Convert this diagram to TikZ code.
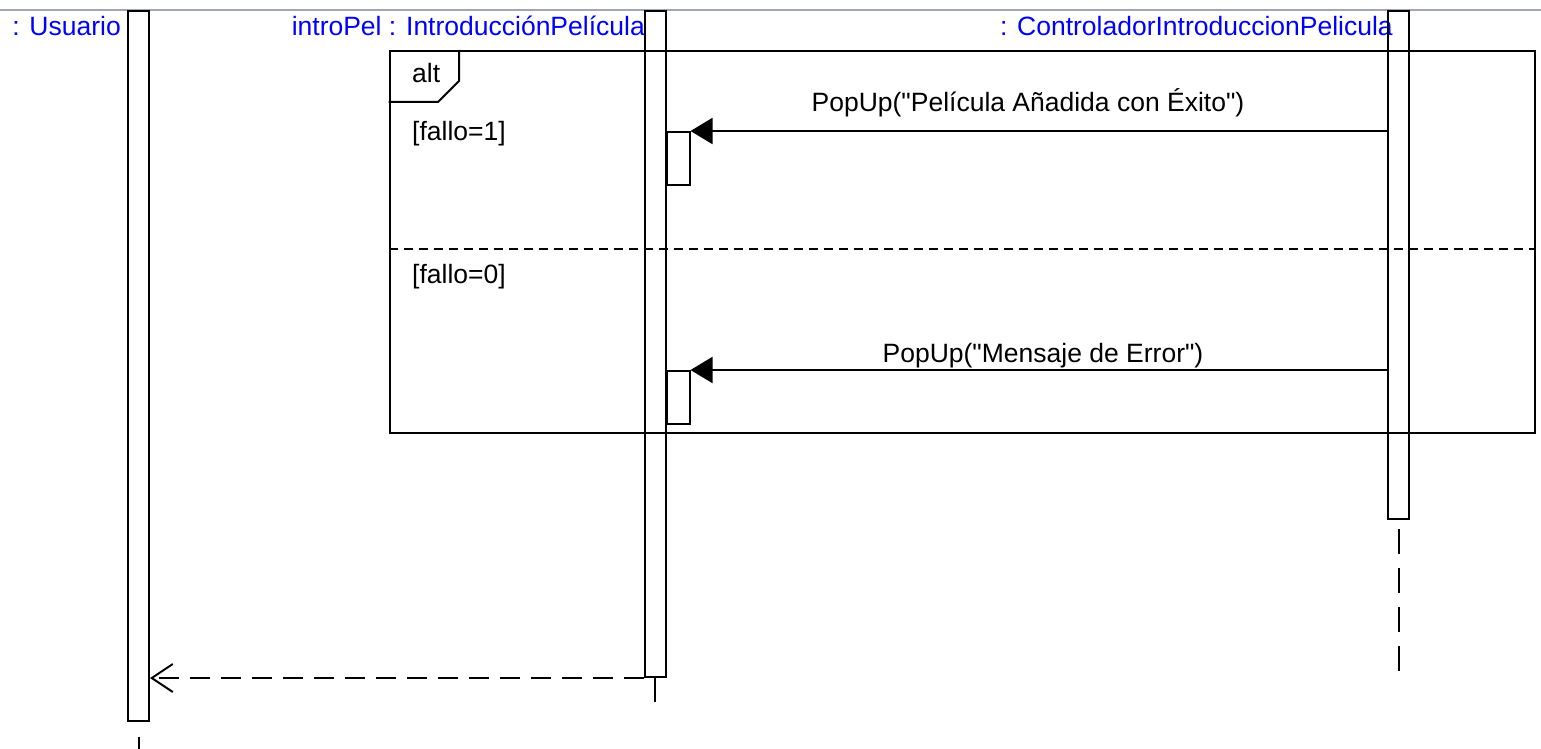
\documentclass[tikz,border=0pt]{standalone}
\usepackage{fontspec}
\setmainfont{Liberation Sans}
\usetikzlibrary{arrows.meta}
\tikzset{
  obj/.style={text=blue, font=\fontsize{26.5}{31}\selectfont, inner sep=0pt, anchor=base east},
  txt/.style={font=\fontsize{26.5}{31}\selectfont, inner sep=0pt},
  bar/.style={draw, line width=2pt, minimum width=21pt, inner sep=0pt, anchor=north},
  subact/.style={draw, line width=2pt, minimum width=23pt, minimum height=53pt, inner sep=0pt, anchor=north west},
  life/.style={line width=2pt, dash pattern=on 25pt off 14pt},
  sync/.style={line width=2pt, -{Triangle[length=22pt,width=26pt]}},
  reply/.style={line width=2pt, dash pattern=on 20pt off 11pt, -{Straight Barb[length=21pt,width=28pt]}}
}
\newcommand{\qt}{\textquotedbl}
\begin{document}
\begin{tikzpicture}[x=1pt,y=-1pt]
\useasboundingbox (0,0) rectangle (1541,749);
\draw [line width=2pt, color={rgb,255:red,160;green,166;blue,180}] (0,10) -- (1541,10);
% objects
\node[obj] (usrname) at (121,36) {: Usuario};
\node[obj] (pelname) at (645,36) {introPel : IntroducciónPelícula};
\node[obj] (ctlname) at (1393,36) {: ControladorIntroduccionPelicula};
\node[bar, minimum height=710pt] (usr) at (138.5,10) {};
\node[bar, minimum height=666pt] (pel) at (655,10) {};
\node[bar, minimum height=508pt] (ctl) at (1398.5,10) {};
\draw[life] ([yshift=-15pt]usr.south) -- (usr.south |- 0,749);
\draw[life] (pel.south) -- ++(0,24);
\draw[life] ([yshift=-9pt]ctl.south) -- ++(0,142);
% alt fragment
\node[draw, line width=2pt, minimum width=1145pt, minimum height=382pt, inner sep=0pt, anchor=north west] (alt) at (388.5,50) {};
\draw[line width=2pt] (459,50) -- (459,81) -- (438,102) -- (alt.west |- 0,102);
\draw[line width=2pt, dash pattern=on 9pt off 6pt] (alt.west |- 0,249) -- (alt.east |- 0,249);
\node[txt, anchor=base west] (altlbl) at (412,83) {alt};
\node[txt, anchor=base west] (g1) at (412,140) {[fallo=1]};
\node[txt, anchor=base west] (g0) at (412,283) {[fallo=0]};
% messages
\node[subact] (act1) at (665.5,131) {};
\node[subact] (act2) at (665.5,370) {};
\draw[sync] (ctl.west |- act1.north east) -- (act1.north east);
\draw[sync] (ctl.west |- act2.north east) -- (act2.north east);
\node[txt, anchor=base] (m1) at (1028,112) {PopUp(\qt Película Añadida con Éxito\qt)};
\node[txt, anchor=base] (m2) at (1043,362) {PopUp(\qt Mensaje de Error\qt)};
\draw[reply] (pel.south west) -- (usr.east |- pel.south west);
\end{tikzpicture}
\end{document}
